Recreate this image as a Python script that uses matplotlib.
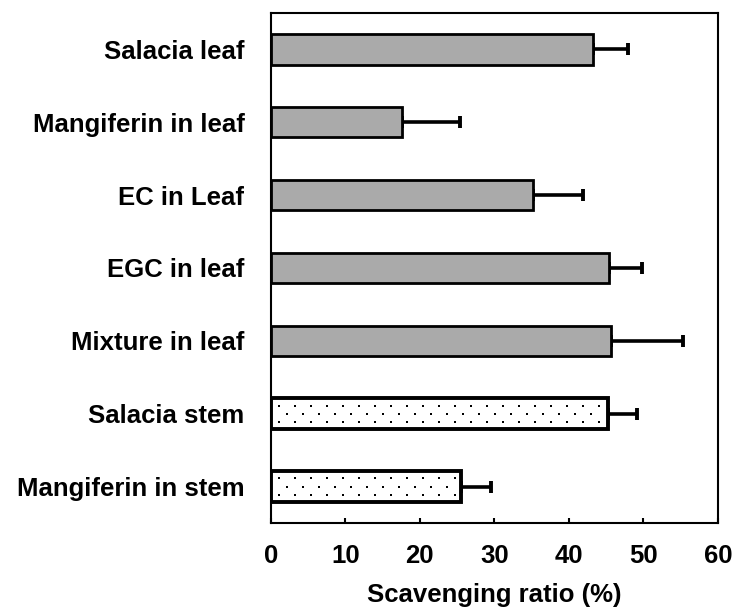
import matplotlib.pyplot as plt
import numpy as np

categories = ["Salacia leaf", "Mangiferin in leaf", "EC in Leaf", "EGC in leaf",
              "Mixture in leaf", "Salacia stem", "Mangiferin in stem"]
values = [43.3, 17.6, 35.2, 45.4, 45.6, 45.3, 25.5]
errors = [4.7, 7.8, 6.7, 4.4, 9.7, 3.9, 4.0]
is_stem = [False, False, False, False, False, True, True]

plt.rcParams['font.family'] = ['Liberation Sans', 'DejaVu Sans']
plt.rcParams['font.weight'] = 'bold'

fig = plt.figure(figsize=(7.34, 6.11), dpi=100)
ax = fig.add_axes([0.369, 0.144, 0.609, 0.835])

bar_h = 0.42
y = np.arange(len(categories))
for i, (v, e, stem) in enumerate(zip(values, errors, is_stem)):
    if stem:
        bar = ax.barh(y[i], v, height=bar_h, color='white', edgecolor='black',
                      linewidth=2.8, zorder=2)[0]
        # sparse dotted fill (staggered rows), clipped to the bar
        step_x, step_y = 2.15, 0.112
        for r, dy in enumerate([-step_y, 0, step_y]):
            start = 1.07 if r != 1 else 1.07 + step_x / 2
            xs = np.arange(start, v - 0.4, step_x)
            pts = ax.scatter(xs, np.full_like(xs, y[i] + dy), s=2.2, marker='s',
                             color='black', linewidths=0, zorder=3)
            pts.set_clip_path(bar)
    else:
        ax.barh(y[i], v, height=bar_h, color='#aaaaaa', edgecolor='black',
                linewidth=2.0, zorder=2)
    ax.errorbar(v, y[i], xerr=[[0], [e]], fmt='none', ecolor='black',
                elinewidth=2.6, capsize=4.5, capthick=2.8, zorder=1)

ax.set_xlim(0, 60)
ax.set_ylim(len(categories) - 0.5, -0.5)
ax.set_xticks(range(0, 61, 10))
ax.set_yticks(y)
ax.set_yticklabels(categories)

for s in ax.spines.values():
    s.set_linewidth(1.5)

ax.tick_params(axis='x', direction='in', length=3.6, width=1.5, pad=15, labelsize=18.5)
ax.tick_params(axis='y', length=0, pad=19, labelsize=18.5)
ax.set_xlabel("Scavenging ratio (%)", fontsize=18.5, fontweight='bold', labelpad=11)

fig.savefig("out.png", dpi=100)
